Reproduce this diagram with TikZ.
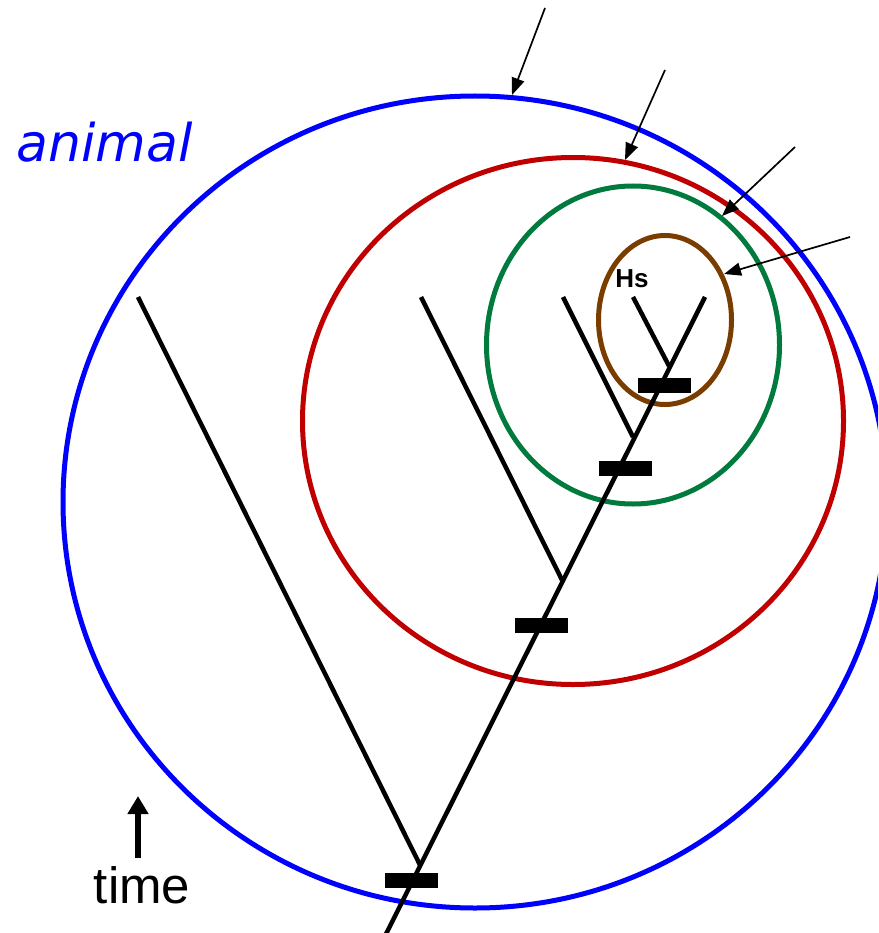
\documentclass[tikz,border=0pt]{standalone}
\usepackage{fontspec}
\setmainfont{Liberation Sans}
\newfontfamily\animalfont{DejaVu Sans}
\usetikzlibrary{arrows.meta,shapes.geometric}
\definecolor{cblue}{RGB}{0,0,255}
\definecolor{cred}{RGB}{192,0,0}
\definecolor{cgreen}{RGB}{0,122,61}
\definecolor{cbrown}{RGB}{122,61,0}
\begin{document}
\begin{tikzpicture}[x=1pt,y=-1pt,
  ring/.style={draw,ellipse,line width=5pt,inner sep=0pt},
  branch/.style={line width=4.5pt},
  bar/.style={fill=black,minimum width=53pt,minimum height=15pt,inner sep=0pt},
  pointer/.style={line width=1.7pt,-{Triangle[length=17pt,width=13pt]}},
  lbl/.style={inner sep=0pt}]
\useasboundingbox (0,0) rectangle (878,933);
\clip (0,0) rectangle (878,933);
% rings
\node[ring,cblue,minimum width=824pt,minimum height=812pt] (blue) at (475,502) {};
\node[ring,cred,minimum width=541pt,minimum height=527pt] (red) at (573,421) {};
\node[ring,cgreen,minimum width=293pt,minimum height=318pt] (green) at (633,345) {};
\node[ring,cbrown,minimum width=133pt,minimum height=169pt] (brown) at (665,320) {};
% tree
\coordinate (root) at (385,936);
\coordinate (top) at (705,297);
\coordinate (j1) at (420,865);
\coordinate (j2) at (562,580);
\coordinate (j3) at (633,437);
\coordinate (j4) at (669,366);
\coordinate (t1) at (138,297);
\coordinate (t2) at (421,297);
\coordinate (t3) at (563,297);
\coordinate (t4) at (633,297);
\draw[branch] (root) -- (top);
\draw[branch] (t1) -- (j1);
\draw[branch] (t2) -- (j2);
\draw[branch] (t3) -- (j3);
\draw[branch] (t4) -- (j4);
% bars
\node[bar] (b1) at (411,880) {};
\node[bar] (b2) at (541,625) {};
\node[bar] (b3) at (625,468) {};
\node[bar] (b4) at (664,385) {};
% pointer arrows
\coordinate (s1) at (545,8);
\coordinate (e1) at (512,95);
\coordinate (s2) at (665,70);
\coordinate (e2) at (625,160);
\coordinate (s3) at (795,147);
\coordinate (e3) at (722,216);
\coordinate (s4) at (850,237);
\coordinate (e4) at (724,274);
\draw[pointer] (s1) -- (e1);
\draw[pointer] (s2) -- (e2);
\draw[pointer] (s3) -- (e3);
\draw[pointer] (s4) -- (e4);
% labels
\node[lbl,text=cblue,anchor=base west] (animal) at (16,162) {\animalfont\itshape\fontsize{52}{52}\selectfont animal};
\node[lbl,anchor=base] (hs) at (632,287) {\fontsize{26}{26}\selectfont\bfseries Hs};
\node[lbl,anchor=base] (time) at (142,903) {\fontsize{51}{51}\selectfont time};
\coordinate (ta) at (138,858);
\coordinate (tb) at (138,796);
\draw[line width=6pt,-{Triangle[length=18pt,width=20pt]}] (ta) -- (tb);
\end{tikzpicture}
\end{document}
